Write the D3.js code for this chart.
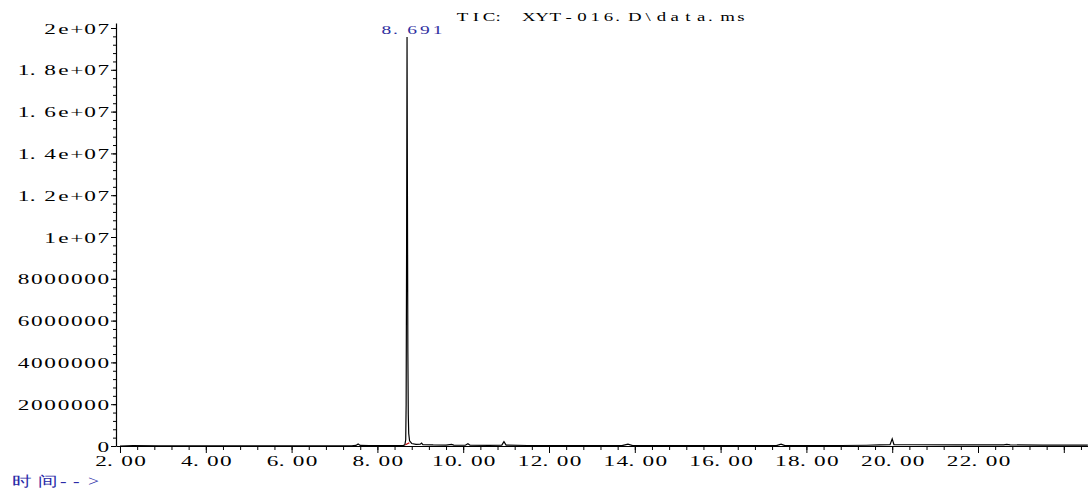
<!DOCTYPE html>
<html>
<head>
<meta charset="utf-8">
<script src="https://cdn.jsdelivr.net/npm/d3@7"></script>
<style>
  body { margin: 0; background: #fff; }
  svg { display: block; }
  text { font-family: "Liberation Serif", "DejaVu Serif", serif; }
</style>
</head>
<body>
<svg id="tic" width="1088" height="492"></svg>
<script>
// retention time (min) and abundance
var rt = [2.00, 2.30, 2.90, 3.50, 5.00, 7.40, 7.50, 7.55, 7.60, 7.80, 8.40, 8.60,
          8.64, 8.66, 8.67, 8.68, 8.691, 8.70, 8.71, 8.72, 8.73, 8.75, 8.80, 8.90,
          9.00, 9.03, 9.06, 9.30, 9.60, 9.73, 9.78, 10.05, 10.11, 10.16, 10.60, 10.90,
          10.95, 11.00, 11.50, 12.50, 13.70, 13.84, 13.95, 15.00, 17.30, 17.41, 17.50, 18.80,
          19.40, 19.70, 19.95, 20.00, 20.04, 20.50, 21.50, 22.60, 22.67, 22.75, 23.50, 24.56]
var abundance = [0, 15000, 10000, 5000, 5000, 10000, 30000, 100000, 30000, 15000, 15000, 20000,
          60000, 300000, 2000000, 9000000, 19570000, 12000000, 4500000, 1500000, 600000, 250000, 120000, 80000,
          90000, 140000, 70000, 50000, 40000, 80000, 40000, 35000, 110000, 35000, 30000, 40000,
          210000, 40000, 25000, 20000, 20000, 90000, 20000, 15000, 20000, 90000, 20000, 25000,
          35000, 50000, 60000, 340000, 70000, 60000, 50000, 50000, 80000, 50000, 45000, 40000]

var peak_rt = [8.691]
var peak_label = ["8.691"]
var integ_start = [8.655]
var integ_end = [8.745]

var x_ticks = [2, 4, 6, 8, 10, 12, 14, 16, 18, 20, 22, 24]
var x_labels = ["2.00", "4.00", "6.00", "8.00", "10.00", "12.00", "14.00", "16.00", "18.00", "20.00", "22.00", ""]
var y_ticks = [0, 2000000, 4000000, 6000000, 8000000, 10000000, 12000000, 14000000, 16000000, 18000000, 20000000]
var y_labels = ["0", "2000000", "4000000", "6000000", "8000000", "1e+07", "1.2e+07", "1.4e+07", "1.6e+07", "1.8e+07", "2e+07"]

var title = "TIC: XYT-016.D\\data.ms"
var x_name = "时间-->"

var svg = d3.select("#tic")
var width = parseFloat(svg.attr("width"))
var height = parseFloat(svg.attr("height"))

var plot_left = 116, plot_right = width, plot_top = 23, plot_bottom = 446
var cell = 13.3    // the instrument font puts every character in a fixed cell
var stretch = 1.55 // and its glyphs are wide

// one character per cell: centred, but '.' and ':' sit at the left of theirs
function cell_text(text, str, start, w, sx){
  var xs = str.split("").map(function(ch, i){
    var l = start + i * w
    return (ch === "." || ch === ":") ? l + 2.5 : l + w / 2
  })
  text.text(str)
      .attr("text-anchor", "middle")
      .attr("transform", "scale(" + sx + ",1)")
      .attr("x", xs.map(function(c){ return (c / sx).toFixed(2) }).join(" "))
}

var x = d3.scaleLinear().domain([1.9068, 24.564]).range([plot_left, plot_right])
var y = d3.scaleLinear().domain([0, 2e7 * (plot_bottom - plot_top) / (plot_bottom - 28)]).range([plot_bottom, plot_top])

// minor ticks first so the axes draw on top
var x_minor = d3.range(2, 24.5, 0.4)
svg.append("g")
    .attr("transform", "translate(0," + plot_bottom + ")")
    .call(d3.axisBottom(x).tickValues(x_minor).tickSize(4).tickSizeOuter(0).tickFormat(""))
    .call(function(g){ g.select(".domain").remove() })

var y_minor = d3.range(0, 20000001, 400000)
svg.append("g")
    .attr("transform", "translate(" + plot_left + ",0)")
    .call(d3.axisLeft(y).tickValues(y_minor).tickSize(3).tickSizeOuter(0).tickFormat(""))
    .call(function(g){ g.select(".domain").remove() })

var x_axis = svg.append("g")
    .attr("transform", "translate(0," + plot_bottom + ")")
    .call(d3.axisBottom(x).tickValues(x_ticks).tickSize(7).tickSizeOuter(0)
      .tickFormat(function(d, i){ return x_labels[i] }))
x_axis.selectAll("text")
    .attr("font-size", 15)
    .attr("fill", "#000")
    .attr("y", 9)
    .each(function(d, i){
      var n = x_labels[i].length
      cell_text(d3.select(this), x_labels[i], -n * 13 / 2, 13, stretch)
    })

var y_axis = svg.append("g")
    .attr("transform", "translate(" + plot_left + ",0)")
    .call(d3.axisLeft(y).tickValues(y_ticks).tickSize(5).tickSizeOuter(0)
      .tickFormat(function(d, i){ return y_labels[i] }))
y_axis.selectAll("text")
    .attr("font-size", 15)
    .attr("fill", "#000")
    .attr("dy", "0.34em")
    .each(function(d, i){
      var n = y_labels[i].length
      cell_text(d3.select(this), y_labels[i], -6 - n * cell, cell, stretch)
    })

svg.selectAll(".domain").attr("stroke", "#000").attr("stroke-width", 1.2)
svg.selectAll(".tick line").attr("stroke", "#000")

// the trace
var trace = rt.map(function(d, i){ return [d, abundance[i]] })
var line = d3.line()
    .x(function(d){ return x(d[0]) })
    .y(function(d){ return y(d[1]) })
svg.append("path")
    .datum(trace)
    .attr("fill", "none")
    .attr("stroke", "#000")
    .attr("stroke-width", 1.2)
    .attr("d", line)

// integration baseline marks
svg.selectAll(".integ")
    .data(integ_start)
    .enter()
    .append("line")
    .attr("class", "integ")
    .attr("x1", function(d){ return x(d) })
    .attr("x2", function(d, i){ return x(integ_end[i]) })
    .attr("y1", y(60000))
    .attr("y2", y(160000))
    .attr("stroke", "#c00000")
    .attr("stroke-width", 1.2)

// peak label
svg.selectAll(".peak_label")
    .data(peak_rt)
    .enter()
    .append("text")
    .attr("class", "peak_label")
    .attr("y", 34)
    .attr("font-size", 13)
    .attr("fill", "#2f2f9f")
    .each(function(d, i){
      cell_text(d3.select(this), peak_label[i], x(d) - 27, 12.8, 1.5)
    })

var title_text = svg.append("text")
    .attr("y", 21)
    .attr("font-size", 13)
    .attr("fill", "#000")
cell_text(title_text, title, 456, 13.25, 1.45)

var name_text = svg.append("text")
    .attr("y", 486)
    .attr("font-size", 14)
    .attr("font-family", "Noto Sans CJK SC")
    .attr("fill", "#2a2aa8")
    .attr("text-anchor", "start")
    .attr("transform", "scale(1.4,1)")
    .attr("x", [12.5, 38, 60, 73, 88].map(function(c){ return (c / 1.4).toFixed(2) }).join(" "))
    .text(x_name)
</script>
</body>
</html>
